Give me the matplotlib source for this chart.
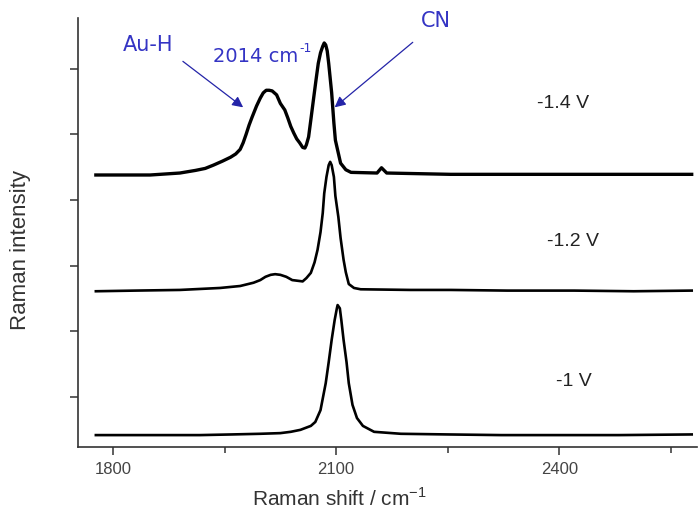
import matplotlib
matplotlib.use("Agg")
import matplotlib.pyplot as plt
from matplotlib.ticker import FixedLocator, NullFormatter
from matplotlib.transforms import offset_copy

plt.rcParams["mathtext.fontset"] = "custom"
plt.rcParams["mathtext.rm"] = "Liberation Sans"

# Raman shift (cm-1) / intensity (a.u., offset)
x_1v = [1777, 1850, 1917, 1960, 1998, 2025, 2039, 2052, 2066, 2072, 2079, 2086, 2090,
        2094, 2098, 2101, 2102, 2105, 2107, 2110, 2114, 2117, 2122, 2128, 2136, 2151,
        2187, 2250, 2322, 2400, 2480, 2578]
y_1v = [0.42, 0.42, 0.42, 0.43, 0.44, 0.45, 0.47, 0.50, 0.56, 0.62, 0.80, 1.21, 1.53,
        1.87, 2.17, 2.35, 2.40, 2.35, 2.17, 1.87, 1.53, 1.21, 0.88, 0.68, 0.56, 0.47,
        0.44, 0.43, 0.42, 0.42, 0.42, 0.43]

x_12v = [1777, 1830, 1890, 1944, 1971, 1989, 1998, 2005, 2012, 2018, 2025, 2033, 2041,
         2048, 2055, 2060, 2066, 2071, 2075, 2079, 2082, 2084, 2087, 2090, 2092, 2094,
         2097, 2099, 2103, 2106, 2110, 2113, 2117, 2124, 2133, 2200, 2254, 2330, 2420,
         2500, 2578]
y_12v = [2.61, 2.62, 2.63, 2.66, 2.69, 2.74, 2.78, 2.83, 2.86, 2.87, 2.86, 2.83, 2.78,
         2.77, 2.76, 2.81, 2.89, 3.05, 3.24, 3.51, 3.80, 4.10, 4.35, 4.53, 4.58, 4.53,
         4.35, 4.06, 3.74, 3.42, 3.09, 2.90, 2.72, 2.66, 2.64, 2.63, 2.63, 2.62, 2.62,
         2.61, 2.62]

x_14v = [1777, 1850, 1890, 1911, 1924, 1935, 1947, 1958, 1965, 1971, 1975, 1979, 1983,
         1987, 1993, 1998, 2002, 2006, 2010, 2014, 2020, 2025, 2031, 2035, 2039, 2043,
         2047, 2051, 2055, 2058, 2060, 2063, 2066, 2070, 2073, 2076, 2079, 2082, 2084,
         2086, 2088, 2090, 2094, 2097, 2099, 2102, 2106, 2113, 2120, 2155, 2161, 2168,
         2254, 2400, 2578]
y_14v = [4.38, 4.38, 4.41, 4.45, 4.48, 4.53, 4.59, 4.65, 4.70, 4.77, 4.87, 5.00, 5.14,
         5.26, 5.43, 5.55, 5.63, 5.67, 5.67, 5.66, 5.60, 5.47, 5.37, 5.25, 5.12, 5.02,
         4.93, 4.87, 4.80, 4.79, 4.84, 4.96, 5.22, 5.57, 5.83, 6.08, 6.24, 6.34, 6.39,
         6.36, 6.27, 6.08, 5.63, 5.17, 4.91, 4.76, 4.56, 4.46, 4.42, 4.41, 4.49, 4.41,
         4.39, 4.39, 4.39]

potentials = ["-1.4 V", "-1.2 V", "-1 V"]
label_x = [2405, 2419, 2419]
label_y = [5.47, 3.36, 1.23]

x_major = [1800, 2100, 2400]
x_minor = [1950, 2250, 2550]
y_ticks = [1, 2, 3, 4, 5, 6]

fig = plt.figure(figsize=(6.99, 5.22), dpi=100)
ax = fig.add_axes([0.1116, 0.1437, 0.8854, 0.8218])

ax.plot(x_1v, y_1v, color="black", lw=1.9, solid_joinstyle="round")
ax.plot(x_12v, y_12v, color="black", lw=1.9, solid_joinstyle="round")
ax.plot(x_14v, y_14v, color="black", lw=2.4, solid_joinstyle="round")

ax.set_xlim(1753, 2585)
ax.set_ylim(0.239, 6.77)

for s in ["top", "right"]:
    ax.spines[s].set_visible(False)
for s in ["left", "bottom"]:
    ax.spines[s].set_color("#333333")
    ax.spines[s].set_linewidth(1.2)

ax.xaxis.set_major_locator(FixedLocator(x_major))
ax.xaxis.set_minor_locator(FixedLocator(x_minor))
ax.set_yticks(y_ticks)
ax.yaxis.set_major_formatter(NullFormatter())
ax.tick_params(axis="x", which="major", length=6, width=1.1, color="#333333",
               labelsize=12, labelcolor="#444444", pad=5)
ax.tick_params(axis="x", which="minor", length=4, width=1.1, color="#333333")
ax.tick_params(axis="y", which="major", length=6, width=1.1, color="#333333")
for lab in ax.get_xticklabels():
    lab.set_family("Liberation Sans")

ax.set_xlabel("Raman shift / cm$^{-1}$", fontsize=15, color="#333333",
              family="Liberation Sans")
ax.xaxis.set_label_coords(0.423, -0.093)
ax.set_ylabel("Raman intensity", fontsize=16, color="#333333",
              family="Liberation Sans")
ax.yaxis.set_label_coords(-0.076, 0.46)

for t, lx, ly in zip(potentials, label_x, label_y):
    ax.text(lx, ly, t, fontsize=14, color="#222222", family="Liberation Sans",
            ha="center", va="center")

# blue annotations
blue_txt = "#3434c4"
blue_arr = "#2424a8"
ax.text(1813, 6.27, "Au-H", fontsize=15, color=blue_txt, ha="left", va="baseline")
t2014 = ax.text(1934, 6.10, "2014 cm", fontsize=14, color=blue_txt, ha="left",
                va="baseline")
fig.canvas.draw()
bb = t2014.get_window_extent().transformed(ax.transData.inverted())
ax.text(bb.x1, 6.10, "-1", fontsize=9, color=blue_txt, ha="left", va="baseline",
        transform=offset_copy(ax.transData, fig=fig, x=1, y=7, units="points"))
ax.text(2214, 6.63, "CN", fontsize=15, color=blue_txt, ha="left", va="baseline")
arrow = dict(arrowstyle="-|>", color=blue_arr, lw=0.9, mutation_scale=16,
             shrinkA=0, shrinkB=0)
ax.annotate("", xy=(1975, 5.41), xytext=(1894, 6.11), arrowprops=arrow)
ax.annotate("", xy=(2098, 5.41), xytext=(2203, 6.40), arrowprops=arrow)

fig.savefig("out.png", dpi=100)
